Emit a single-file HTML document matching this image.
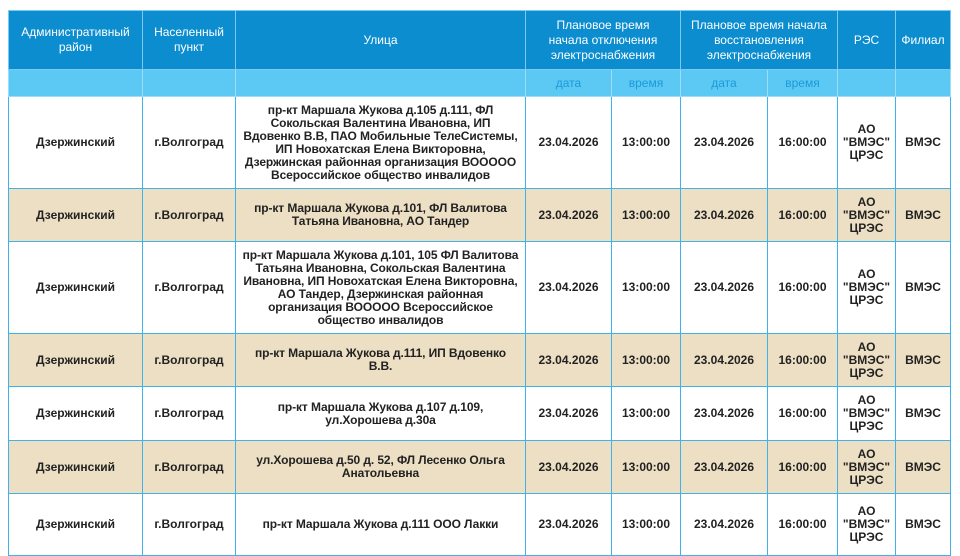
<!DOCTYPE html>
<html><head><meta charset="utf-8">
<style>
html,body{margin:0;padding:0;background:#fff;width:960px;height:546px;overflow:hidden}
table{position:absolute;left:8px;top:10px;border-collapse:collapse;table-layout:fixed;font-family:"Liberation Sans",sans-serif;font-size:12px;color:#222}
td,th{border:1px solid #3fb2ea;text-align:center;vertical-align:middle;padding:0 2px;line-height:13px;font-weight:bold;overflow:hidden}
td.st{white-space:nowrap;letter-spacing:-0.1px}
th{background:#0b8dcf;color:#fff;font-weight:normal;font-size:12px;line-height:15px;border-color:#7cc9ef}
tr.sub td{background:#5cc8f4;color:#1a9ad8;font-weight:normal;border-color:#9fdcf7}
tr.beige td{background:#ecdfc3}
</style></head><body>
<table>
<colgroup><col style="width:134px"><col style="width:93px"><col style="width:290px"><col style="width:86px"><col style="width:69px"><col style="width:87px"><col style="width:70px"><col style="width:58px"><col style="width:55px"></colgroup>
<tr style="height:59px">
<th>Административный<br>район</th>
<th>Населенный<br>пункт</th>
<th>Улица</th>
<th colspan="2">Плановое время<br>начала отключения<br>электроснабжения</th>
<th colspan="2">Плановое время начала<br>восстановления<br>электроснабжения</th>
<th>РЭС</th>
<th>Филиал</th>
</tr>
<tr class="sub" style="height:27px">
<td></td><td></td><td></td><td>дата</td><td>время</td><td>дата</td><td>время</td><td></td><td></td>
</tr>
<tr style="height:92px"><td>Дзержинский</td><td>г.Волгоград</td><td class="st">пр-кт Маршала Жукова д.105 д.111, ФЛ<br>Сокольская Валентина Ивановна, ИП<br>Вдовенко В.В, ПАО Мобильные ТелеСистемы,<br>ИП Новохатская Елена Викторовна,<br>Дзержинская районная организация ВООООО<br>Всероссийское общество инвалидов</td><td>23.04.2026</td><td>13:00:00</td><td>23.04.2026</td><td>16:00:00</td><td>АО<br>"ВМЭС"<br>ЦРЭС</td><td>ВМЭС</td></tr>
<tr class="beige" style="height:53px"><td>Дзержинский</td><td>г.Волгоград</td><td class="st">пр-кт Маршала Жукова д.101, ФЛ Валитова<br>Татьяна Ивановна, АО Тандер</td><td>23.04.2026</td><td>13:00:00</td><td>23.04.2026</td><td>16:00:00</td><td>АО<br>"ВМЭС"<br>ЦРЭС</td><td>ВМЭС</td></tr>
<tr style="height:92px"><td>Дзержинский</td><td>г.Волгоград</td><td class="st">пр-кт Маршала Жукова д.101, 105 ФЛ Валитова<br>Татьяна Ивановна, Сокольская Валентина<br>Ивановна, ИП Новохатская Елена Викторовна,<br>АО Тандер, Дзержинская районная<br>организация ВООООО Всероссийское<br>общество инвалидов</td><td>23.04.2026</td><td>13:00:00</td><td>23.04.2026</td><td>16:00:00</td><td>АО<br>"ВМЭС"<br>ЦРЭС</td><td>ВМЭС</td></tr>
<tr class="beige" style="height:53px"><td>Дзержинский</td><td>г.Волгоград</td><td class="st">пр-кт Маршала Жукова д.111, ИП Вдовенко<br>В.В.</td><td>23.04.2026</td><td>13:00:00</td><td>23.04.2026</td><td>16:00:00</td><td>АО<br>"ВМЭС"<br>ЦРЭС</td><td>ВМЭС</td></tr>
<tr style="height:54px"><td>Дзержинский</td><td>г.Волгоград</td><td class="st">пр-кт Маршала Жукова д.107 д.109,<br>ул.Хорошева д.30а</td><td>23.04.2026</td><td>13:00:00</td><td>23.04.2026</td><td>16:00:00</td><td>АО<br>"ВМЭС"<br>ЦРЭС</td><td>ВМЭС</td></tr>
<tr class="beige" style="height:53px"><td>Дзержинский</td><td>г.Волгоград</td><td class="st">ул.Хорошева д.50 д. 52, ФЛ Лесенко Ольга<br>Анатольевна</td><td>23.04.2026</td><td>13:00:00</td><td>23.04.2026</td><td>16:00:00</td><td>АО<br>"ВМЭС"<br>ЦРЭС</td><td>ВМЭС</td></tr>
<tr style="height:62px"><td>Дзержинский</td><td>г.Волгоград</td><td class="st">пр-кт Маршала Жукова д.111 ООО Лакки</td><td>23.04.2026</td><td>13:00:00</td><td>23.04.2026</td><td>16:00:00</td><td>АО<br>"ВМЭС"<br>ЦРЭС</td><td>ВМЭС</td></tr>
</table>
</body></html>
